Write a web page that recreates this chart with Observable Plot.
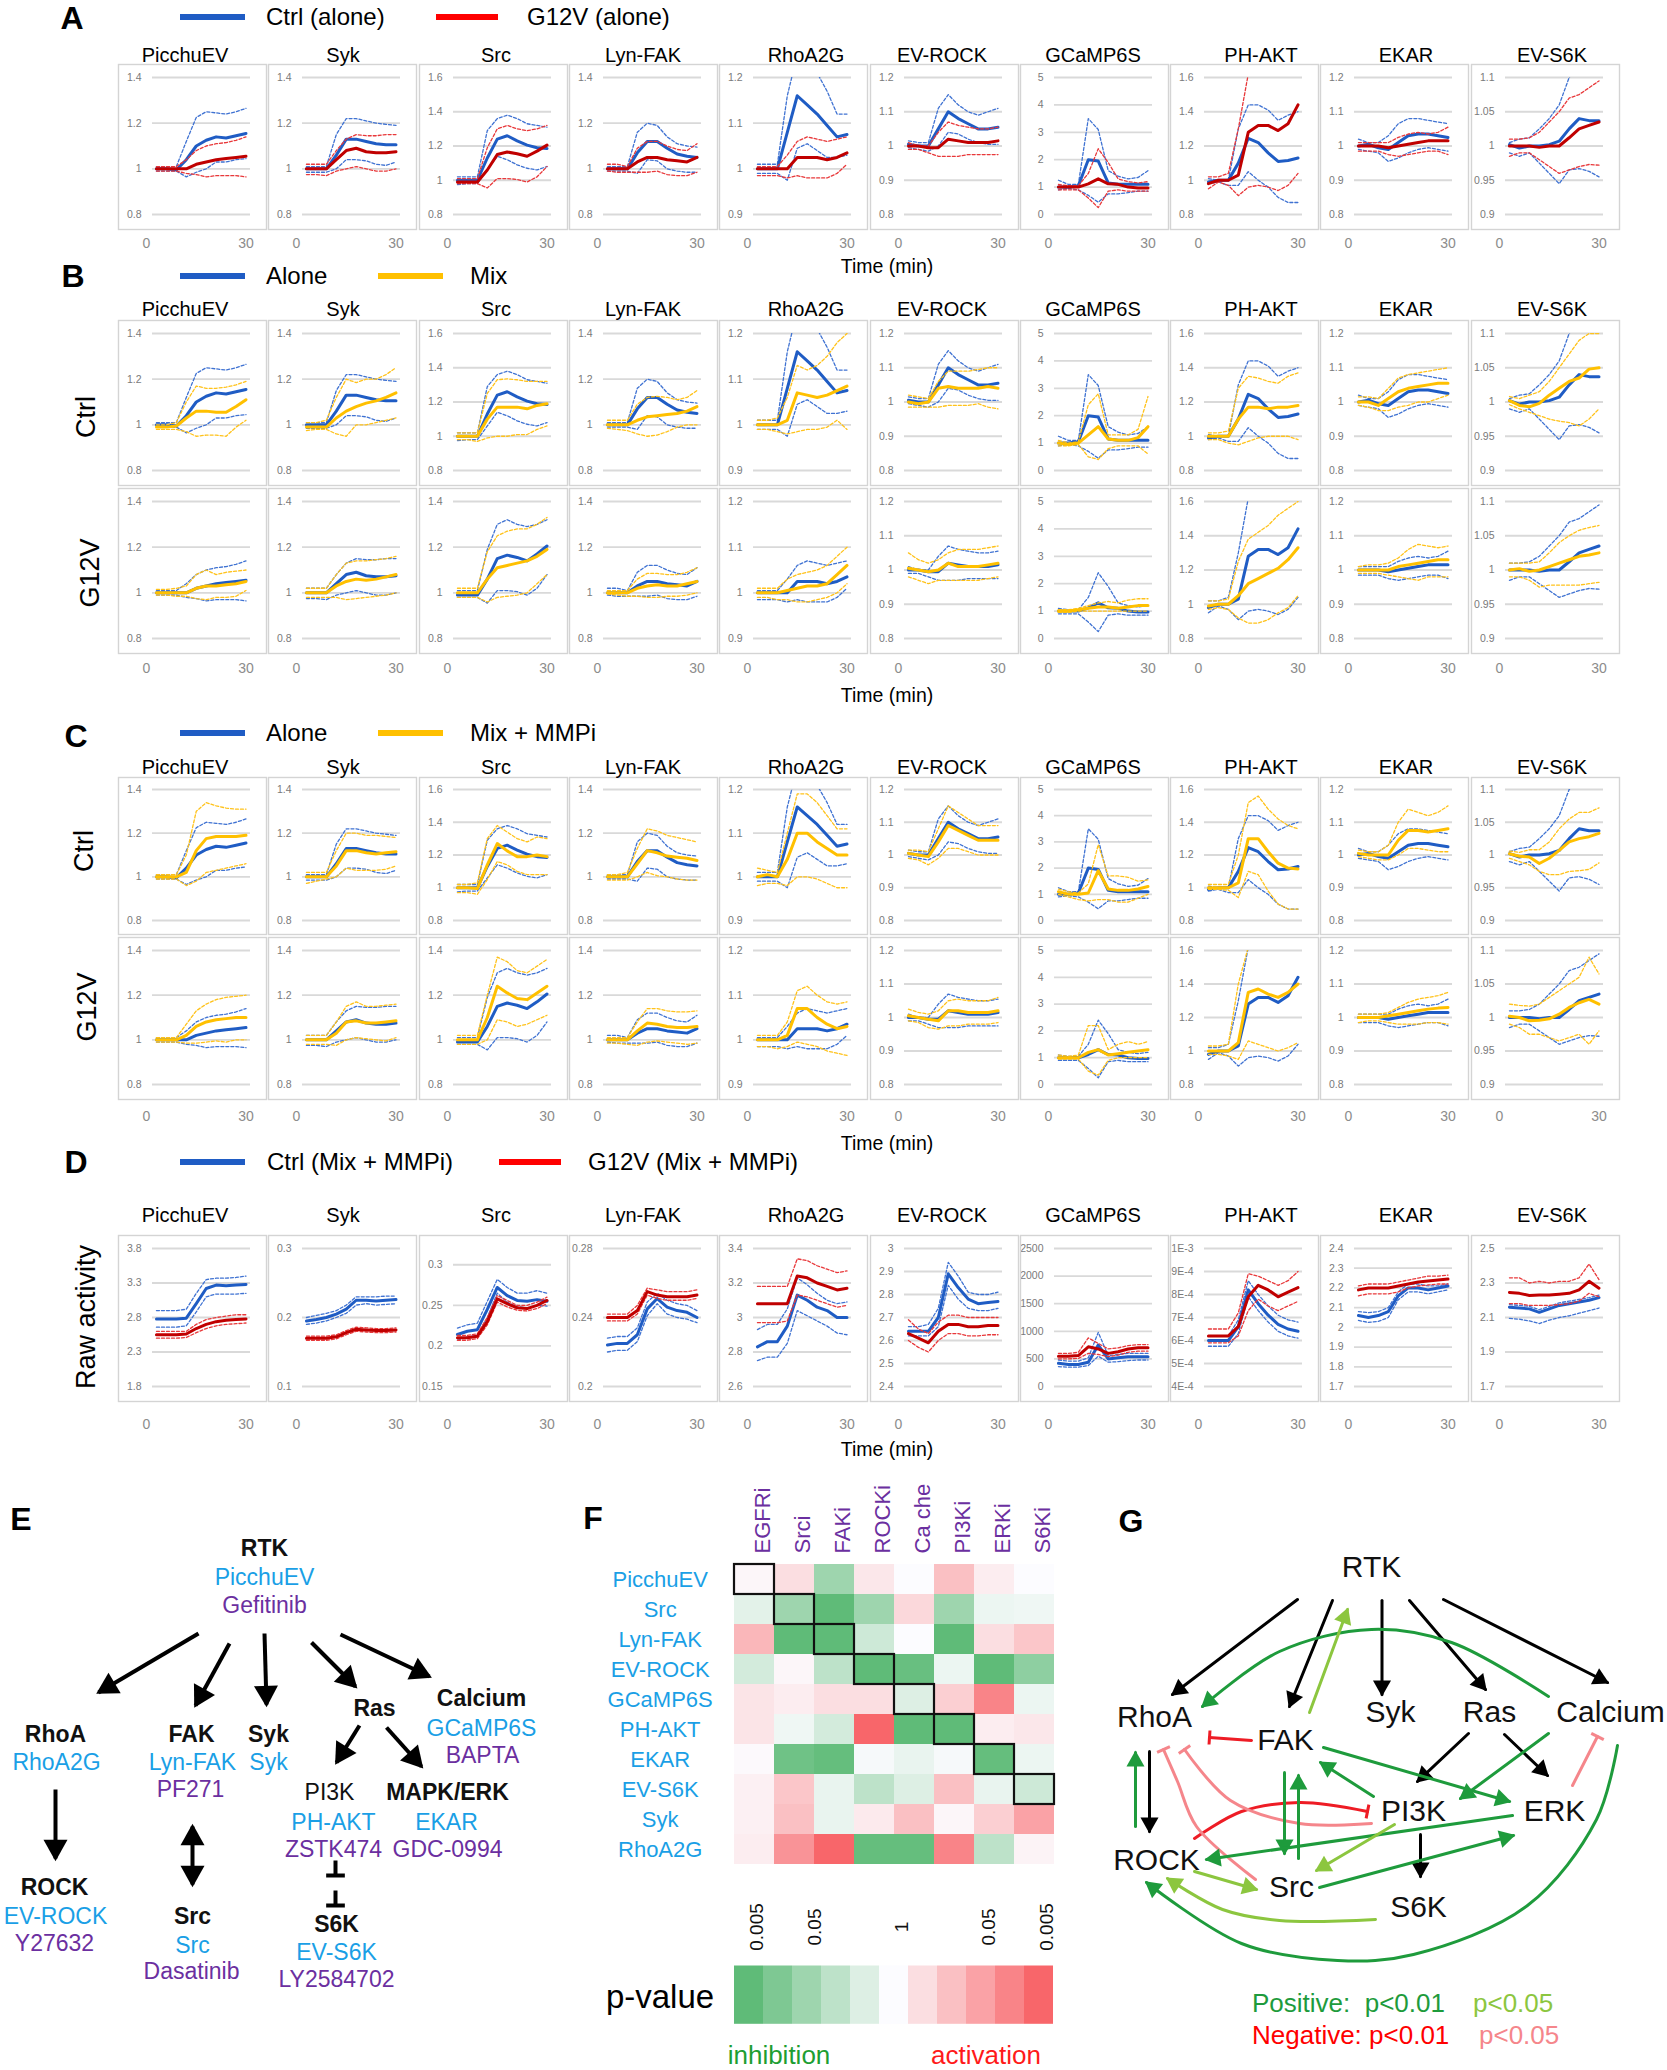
<!DOCTYPE html>
<html><head><meta charset="utf-8">
<script src="https://cdn.jsdelivr.net/npm/d3@7"></script>
<script src="https://cdn.jsdelivr.net/npm/@observablehq/plot@0.6"></script>
<style>
html,body{margin:0;padding:0;background:#fff;}
#page{position:relative;width:1667px;height:2070px;overflow:hidden;background:#fff;font-family:"Liberation Sans",Arial,Helvetica,sans-serif;}
.sc g[aria-label^="x-axis"] text{font-size:14px;fill:#8c8c8c;}
.sc g[aria-label^="y-axis"] text{fill:#7a7a7a;}
</style></head>
<body><div id="page"></div>
<script>
// ---------------- DATA ----------------
const SENSORS = ["PicchuEV","Syk","Src","Lyn-FAK","RhoA2G","EV-ROCK","GCaMP6S","PH-AKT","EKAR","EV-S6K"];
const T = [3,6,9,12,15,18,21,24,27,30];
const X_TICKS = [0, 30];

const NORM_YDOMAIN = [[0.8,1.4],[0.8,1.4],[0.8,1.6],[0.8,1.4],[0.9,1.2],[0.8,1.2],[0,5],[0.8,1.6],[0.8,1.2],[0.9,1.1]];
const NORM_YTICKS = [[0.8,1,1.2,1.4],[0.8,1,1.2,1.4],[0.8,1,1.2,1.4,1.6],[0.8,1,1.2,1.4],[0.9,1,1.1,1.2],[0.8,0.9,1,1.1,1.2],[0,1,2,3,4,5],[0.8,1,1.2,1.4,1.6],[0.8,0.9,1,1.1,1.2],[0.9,0.95,1,1.05,1.1]];
const G12V_YDOMAIN = [[0.8,1.4],[0.8,1.4],[0.8,1.4],[0.8,1.4],[0.9,1.2],[0.8,1.2],[0,5],[0.8,1.6],[0.8,1.2],[0.9,1.1]];
const G12V_YTICKS = [[0.8,1,1.2,1.4],[0.8,1,1.2,1.4],[0.8,1,1.2,1.4],[0.8,1,1.2,1.4],[0.9,1,1.1,1.2],[0.8,0.9,1,1.1,1.2],[0,1,2,3,4,5],[0.8,1,1.2,1.4,1.6],[0.8,0.9,1,1.1,1.2],[0.9,0.95,1,1.05,1.1]];
const RAW_YDOMAIN = [[1.8,3.8],[0.1,0.3],[0.15,0.32],[0.2,0.28],[2.6,3.4],[2.4,3],[0,2500],[0.0004,0.001],[1.7,2.4],[1.7,2.5]];
const RAW_YTICKS = [[1.8,2.3,2.8,3.3,3.8],[0.1,0.2,0.3],[0.15,0.2,0.25,0.3],[0.2,0.24,0.28],[2.6,2.8,3,3.2,3.4],[2.4,2.5,2.6,2.7,2.8,2.9,3],[0,500,1000,1500,2000,2500],[0.0004,0.0005,0.0006,0.0007,0.0008,0.0009,0.001],[1.7,1.8,1.9,2,2.1,2.2,2.3,2.4],[1.7,1.9,2.1,2.3,2.5]];
const RAW_PHAKT_LABELS = ["4E-4","5E-4","6E-4","7E-4","8E-4","9E-4","1E-3"];

// Ctrl alone (normalized)
const ALONE_CTRL_MEAN = [
[1.0,1.0,0.995,1.04,1.10,1.125,1.14,1.135,1.145,1.155],
[1.0,1.0,1.0,1.06,1.13,1.13,1.12,1.11,1.105,1.105],
[1.0,1.0,1.0,1.13,1.24,1.26,1.23,1.205,1.19,1.185],
[1.0,1.0,1.0,1.07,1.12,1.12,1.09,1.065,1.055,1.05],
[1.0,1.0,1.0,1.08,1.16,1.14,1.12,1.095,1.07,1.075],
[1.005,1.0,1.0,1.05,1.10,1.08,1.065,1.05,1.05,1.055],
[1.0,1.0,1.05,2.0,1.95,1.15,1.1,1.1,1.1,1.1],
[0.99,1.0,1.0,1.1,1.245,1.22,1.16,1.11,1.115,1.13],
[1.0,1.005,0.995,0.99,1.01,1.03,1.035,1.035,1.03,1.025],
[1.002,0.997,1.0,1.0,1.002,1.007,1.025,1.04,1.037,1.037]];
const ALONE_CTRL_HI = [
[1.01,1.01,1.01,1.12,1.225,1.25,1.245,1.24,1.25,1.265],
[1.01,1.01,1.01,1.15,1.22,1.22,1.21,1.20,1.195,1.19],
[1.02,1.02,1.02,1.29,1.36,1.38,1.36,1.33,1.32,1.31],
[1.01,1.01,1.01,1.16,1.20,1.19,1.14,1.11,1.10,1.095],
[1.01,1.01,1.01,1.16,1.25,1.25,1.21,1.17,1.12,1.12],
[1.015,1.01,1.01,1.11,1.15,1.12,1.10,1.09,1.10,1.11],
[1.25,1.1,1.1,3.5,3.1,1.6,1.4,1.3,1.35,1.6],
[1.01,1.0,1.0,1.3,1.44,1.44,1.41,1.35,1.38,1.4],
[1.02,1.01,1.01,1.03,1.065,1.08,1.08,1.075,1.07,1.065],
[1.005,1.01,1.012,1.025,1.04,1.06,1.1,1.12,1.14,1.16]];
const ALONE_CTRL_LO = [
[0.99,0.99,0.99,0.965,0.985,1.0,1.03,1.03,1.04,1.045],
[0.985,0.985,0.985,1.0,1.04,1.04,1.035,1.02,1.015,1.03],
[0.975,0.98,0.98,1.06,1.14,1.12,1.09,1.07,1.06,1.08],
[0.99,0.99,0.99,0.98,1.04,1.035,1.0,0.99,0.985,0.985],
[0.99,0.99,0.99,0.975,1.045,1.055,1.04,1.025,1.025,1.03],
[0.995,0.99,0.985,1.0,1.04,1.035,1.02,1.01,1.005,1.005],
[0.9,0.95,0.9,0.7,0.45,0.75,0.75,0.8,0.85,0.85],
[0.98,0.99,0.97,0.97,1.05,1.0,0.96,0.9,0.87,0.87],
[0.99,0.985,0.98,0.955,0.965,0.98,0.99,0.995,0.99,0.985],
[0.99,0.985,0.99,0.975,0.96,0.945,0.965,0.967,0.963,0.955]];

// G12V alone (normalized)
const ALONE_G12V_MEAN = [
[1.0,1.0,1.0,1.0,1.02,1.03,1.04,1.045,1.05,1.055],
[1.0,1.0,1.0,1.04,1.08,1.09,1.075,1.07,1.07,1.075],
[0.99,0.99,0.99,1.06,1.15,1.165,1.155,1.14,1.17,1.205],
[1.0,1.0,1.0,1.03,1.05,1.05,1.04,1.035,1.03,1.05],
[1.0,1.0,1.0,1.0,1.025,1.025,1.025,1.02,1.025,1.035],
[1.0,1.0,0.995,0.995,1.02,1.015,1.01,1.01,1.01,1.015],
[1.0,1.0,1.0,1.12,1.3,1.12,1.1,1.0,0.97,0.97],
[0.98,1.0,1.0,1.03,1.28,1.32,1.32,1.29,1.33,1.44],
[1.0,1.0,1.0,0.995,1.0,1.005,1.01,1.015,1.015,1.015],
[1.0,1.0,1.0,0.998,1.0,1.0,1.012,1.025,1.03,1.035]];
const ALONE_G12V_HI = [
[1.01,1.01,1.01,1.04,1.08,1.10,1.11,1.115,1.125,1.14],
[1.02,1.02,1.02,1.08,1.13,1.15,1.145,1.145,1.15,1.15],
[1.01,1.01,1.01,1.19,1.30,1.32,1.30,1.29,1.30,1.32],
[1.02,1.02,1.01,1.09,1.12,1.12,1.10,1.085,1.08,1.11],
[1.005,1.005,1.005,1.03,1.06,1.07,1.065,1.06,1.065,1.07],
[1.01,1.0,1.0,1.04,1.07,1.06,1.055,1.05,1.05,1.055],
[1.1,1.05,1.05,1.5,2.4,1.9,1.3,1.2,1.15,1.2],
[1.02,1.02,1.04,1.3,1.62,1.75,1.8,1.85,1.9,1.95],
[1.01,1.01,1.01,1.01,1.025,1.035,1.04,1.035,1.04,1.055],
[1.01,1.01,1.012,1.02,1.035,1.05,1.07,1.075,1.085,1.095]];
const ALONE_G12V_LO = [
[0.99,0.99,0.99,0.98,0.975,0.965,0.97,0.97,0.97,0.965],
[0.975,0.975,0.97,0.99,1.0,1.01,1.0,0.99,0.99,1.0],
[0.98,0.98,0.98,0.955,1.01,1.01,1.005,0.99,1.02,1.08],
[0.99,0.985,0.985,0.985,0.985,0.99,0.975,0.97,0.97,0.985],
[0.985,0.985,0.985,0.98,0.985,0.98,0.98,0.98,0.99,1.01],
[0.99,0.99,0.98,0.97,0.97,0.97,0.975,0.975,0.975,0.975],
[0.9,0.9,0.9,0.6,0.25,0.85,0.9,0.85,0.85,0.85],
[0.95,0.99,0.97,0.91,0.96,0.97,0.96,0.94,0.97,1.04],
[0.985,0.985,0.985,0.975,0.97,0.975,0.98,0.985,0.985,0.975],
[0.985,0.99,0.99,0.98,0.97,0.96,0.965,0.97,0.973,0.972]];

// Ctrl in mix
const MIX_CTRL_MEAN = [
[0.99,0.99,0.995,1.03,1.06,1.06,1.055,1.055,1.08,1.11],
[0.99,0.99,0.99,1.03,1.06,1.08,1.095,1.105,1.12,1.14],
[1.0,1.0,1.0,1.1,1.17,1.17,1.17,1.16,1.18,1.19],
[1.0,1.0,1.0,1.02,1.035,1.04,1.045,1.05,1.06,1.08],
[1.0,1.0,1.0,1.01,1.07,1.065,1.06,1.065,1.075,1.085],
[1.0,0.995,1.0,1.04,1.045,1.04,1.04,1.04,1.045,1.04],
[1.0,0.95,1.0,1.3,1.6,1.15,1.1,1.1,1.2,1.6],
[1.0,1.0,1.0,1.1,1.17,1.17,1.16,1.17,1.17,1.18],
[1.0,1.0,0.99,1.01,1.03,1.04,1.045,1.05,1.055,1.055],
[1.002,0.995,0.993,0.998,1.01,1.02,1.03,1.035,1.048,1.05]];
const MIX_CTRL_HI = [
[1.0,1.0,1.01,1.1,1.17,1.16,1.16,1.165,1.175,1.19],
[1.01,1.01,1.02,1.12,1.2,1.185,1.2,1.2,1.22,1.25],
[1.02,1.02,1.02,1.25,1.33,1.335,1.33,1.32,1.32,1.32],
[1.02,1.02,1.02,1.09,1.12,1.125,1.12,1.11,1.12,1.15],
[1.01,1.01,1.015,1.06,1.13,1.12,1.13,1.15,1.18,1.2],
[1.02,1.015,1.01,1.06,1.09,1.09,1.09,1.095,1.1,1.1],
[1.1,1.0,1.05,2.4,2.8,1.3,1.3,1.3,1.5,2.7],
[1.02,1.02,1.03,1.28,1.35,1.34,1.32,1.31,1.35,1.37],
[1.015,1.015,1.01,1.04,1.07,1.08,1.085,1.09,1.095,1.1],
[1.008,1.005,1.01,1.015,1.03,1.05,1.07,1.09,1.1,1.1]];
const MIX_CTRL_LO = [
[0.98,0.98,0.98,0.97,0.95,0.955,0.955,0.95,0.99,1.02],
[0.975,0.98,0.98,0.96,0.95,1.0,1.0,1.01,1.02,1.03],
[0.98,0.98,0.97,0.99,1.0,1.0,1.01,1.01,1.04,1.06],
[0.985,0.98,0.975,0.96,0.95,0.955,0.97,0.99,1.0,1.0],
[0.99,0.99,0.985,0.98,0.985,0.99,0.99,0.995,1.01,0.99],
[0.985,0.985,0.985,0.985,0.99,0.99,0.99,0.995,0.985,0.98],
[0.9,0.9,0.95,0.5,0.4,0.8,0.9,0.9,0.9,0.6],
[0.98,0.98,0.96,0.95,0.97,0.99,1.0,1.0,1.0,0.98],
[0.99,0.985,0.975,0.975,0.985,0.99,1.0,1.0,1.01,1.02],
[0.996,0.99,0.985,0.98,0.975,0.972,0.97,0.965,0.975,0.99]];

// G12V in mix
const MIX_G12V_MEAN = [
[1.0,1.0,1.0,1.0,1.02,1.03,1.03,1.035,1.04,1.05],
[1.0,1.0,1.0,1.03,1.05,1.06,1.055,1.06,1.07,1.08],
[1.0,1.0,1.0,1.06,1.11,1.12,1.13,1.14,1.16,1.19],
[1.0,1.0,1.0,1.02,1.03,1.035,1.03,1.03,1.04,1.05],
[1.0,1.0,1.0,1.005,1.01,1.015,1.015,1.02,1.04,1.06],
[1.005,1.0,0.995,1.0,1.02,1.01,1.01,1.01,1.015,1.02],
[1.0,1.0,1.05,1.1,1.15,1.15,1.1,1.15,1.2,1.2],
[0.99,1.0,1.0,1.05,1.12,1.15,1.18,1.21,1.26,1.33],
[1.0,1.0,1.0,1.0,1.01,1.015,1.02,1.025,1.03,1.03],
[1.0,1.002,0.998,1.0,1.005,1.01,1.015,1.02,1.022,1.025]];
const MIX_G12V_HI = [
[1.015,1.015,1.02,1.03,1.08,1.1,1.08,1.09,1.095,1.1],
[1.02,1.02,1.02,1.08,1.13,1.14,1.14,1.145,1.15,1.16],
[1.02,1.02,1.02,1.18,1.25,1.27,1.28,1.28,1.3,1.33],
[1.01,1.01,1.01,1.06,1.085,1.085,1.08,1.08,1.09,1.11],
[1.01,1.01,1.01,1.03,1.04,1.045,1.05,1.06,1.08,1.1],
[1.05,1.03,1.02,1.03,1.05,1.06,1.06,1.06,1.065,1.07],
[1.05,1.05,1.1,1.2,1.3,1.35,1.3,1.4,1.45,1.45],
[1.02,1.02,1.03,1.25,1.38,1.42,1.46,1.52,1.56,1.6],
[1.01,1.015,1.015,1.02,1.035,1.06,1.075,1.07,1.065,1.07],
[1.01,1.01,1.01,1.012,1.025,1.04,1.05,1.058,1.062,1.065]];
const MIX_G12V_LO = [
[0.99,0.99,0.985,0.985,0.975,0.97,0.98,0.98,0.985,1.01],
[0.98,0.98,0.98,0.98,0.97,0.975,0.98,0.985,0.99,1.0],
[0.98,0.98,0.98,0.96,0.98,0.985,0.99,1.0,1.04,1.08],
[0.995,0.99,0.985,0.985,0.98,0.98,0.985,0.985,0.99,1.0],
[0.99,0.99,0.985,0.985,0.98,0.98,0.985,0.99,1.0,1.02],
[0.98,0.97,0.96,0.97,0.97,0.97,0.97,0.97,0.975,0.98],
[0.95,0.95,1.0,1.0,1.0,1.0,1.0,1.0,1.0,1.0],
[0.97,0.98,0.97,0.92,0.89,0.89,0.91,0.95,0.98,1.05],
[0.99,0.99,0.99,0.985,0.98,0.975,0.97,0.98,0.98,0.98],
[0.99,0.99,0.985,0.975,0.978,0.978,0.978,0.978,0.98,0.982]];

// Ctrl in mix + MMPi
const MMPI_CTRL_MEAN = [
[1.0,1.0,1.0,1.02,1.12,1.175,1.185,1.185,1.185,1.19],
[1.0,1.0,1.0,1.05,1.12,1.12,1.11,1.105,1.11,1.115],
[1.0,1.0,0.995,1.14,1.27,1.225,1.19,1.19,1.2,1.19],
[1.0,1.0,1.0,1.06,1.12,1.11,1.095,1.09,1.085,1.075],
[1.0,1.005,1.0,1.04,1.1,1.1,1.08,1.065,1.05,1.05],
[1.005,1.0,0.995,1.04,1.09,1.075,1.06,1.045,1.045,1.045],
[1.1,1.0,1.0,1.05,1.9,1.2,1.15,1.15,1.2,1.3],
[1.0,1.0,1.0,1.03,1.3,1.3,1.22,1.15,1.12,1.115],
[1.005,1.0,1.0,1.0,1.045,1.075,1.075,1.07,1.075,1.08],
[1.002,0.998,0.997,0.987,0.995,1.007,1.02,1.025,1.028,1.033]];
const MMPI_CTRL_HI = [
[1.01,1.01,1.01,1.1,1.3,1.34,1.325,1.315,1.31,1.31],
[1.02,1.02,1.02,1.12,1.2,1.2,1.19,1.19,1.185,1.18],
[1.02,1.02,1.03,1.3,1.38,1.34,1.3,1.28,1.31,1.3],
[1.01,1.01,1.02,1.13,1.22,1.21,1.19,1.18,1.17,1.16],
[1.02,1.015,1.01,1.1,1.19,1.19,1.17,1.14,1.11,1.11],
[1.015,1.015,1.01,1.08,1.15,1.13,1.11,1.09,1.09,1.09],
[1.2,1.1,1.05,1.4,2.9,1.7,1.7,1.65,1.5,1.55],
[1.02,1.02,1.02,1.2,1.52,1.56,1.48,1.42,1.38,1.36],
[1.015,1.01,1.01,1.03,1.1,1.14,1.13,1.12,1.13,1.15],
[1.006,1.004,1.008,1.008,1.02,1.04,1.055,1.065,1.065,1.072]];
const MMPI_CTRL_LO = [
[0.99,0.99,0.99,0.96,0.98,1.02,1.03,1.04,1.05,1.06],
[0.97,0.98,0.99,1.0,1.04,1.03,1.03,1.03,1.035,1.05],
[0.97,0.97,0.96,1.05,1.16,1.14,1.1,1.08,1.08,1.08],
[0.985,0.985,0.985,1.0,1.02,1.005,1.0,0.99,0.985,0.985],
[0.98,0.985,0.985,0.98,1.0,1.0,0.995,0.985,0.975,0.975],
[0.99,0.985,0.97,0.99,1.02,1.02,1.01,1.0,1.0,1.0],
[1.0,0.9,0.8,0.75,0.8,0.8,0.7,0.7,0.85,1.0],
[0.99,0.99,0.985,0.94,1.1,1.08,0.98,0.9,0.87,0.87],
[0.995,0.99,0.985,0.985,1.0,1.02,1.02,1.015,1.01,1.01],
[0.995,0.99,0.985,0.975,0.97,0.97,0.975,0.976,0.978,0.988]];

// G12V in mix + MMPi
const MMPI_G12V_MEAN = [
[1.0,1.0,1.0,1.02,1.06,1.08,1.09,1.095,1.1,1.1],
[1.0,1.0,1.0,1.03,1.08,1.085,1.075,1.075,1.08,1.085],
[1.0,1.0,1.0,1.1,1.24,1.21,1.185,1.18,1.21,1.24],
[1.0,1.0,1.0,1.04,1.075,1.07,1.06,1.055,1.055,1.06],
[1.0,1.0,1.0,1.01,1.07,1.07,1.05,1.035,1.025,1.03],
[1.005,1.0,0.995,0.99,1.02,1.02,1.015,1.015,1.015,1.02],
[1.0,1.0,1.0,1.2,1.3,1.1,1.15,1.2,1.25,1.3],
[1.0,1.0,1.0,1.05,1.35,1.37,1.34,1.32,1.35,1.4],
[1.0,1.0,1.0,1.005,1.01,1.015,1.02,1.025,1.028,1.03],
[1.002,1.0,0.995,0.996,0.998,1.005,1.015,1.022,1.027,1.02]];
const MMPI_G12V_HI = [
[1.01,1.01,1.01,1.07,1.13,1.16,1.18,1.19,1.195,1.2],
[1.02,1.02,1.02,1.08,1.15,1.17,1.15,1.15,1.155,1.16],
[1.02,1.02,1.02,1.2,1.37,1.35,1.31,1.3,1.33,1.36],
[1.01,1.01,1.01,1.08,1.14,1.14,1.13,1.125,1.125,1.13],
[1.01,1.01,1.01,1.04,1.11,1.12,1.1,1.085,1.08,1.085],
[1.025,1.015,1.01,1.02,1.05,1.055,1.05,1.05,1.05,1.06],
[1.1,1.05,1.1,2.2,2.2,1.3,1.5,1.6,1.5,1.6],
[1.03,1.03,1.04,1.4,1.62,1.7,1.8,1.9,2.0,2.0],
[1.01,1.01,1.01,1.015,1.03,1.045,1.055,1.06,1.065,1.075],
[1.02,1.018,1.017,1.02,1.03,1.04,1.05,1.06,1.09,1.065]];
const MMPI_G12V_LO = [
[0.99,0.99,0.99,0.985,0.985,0.99,0.995,0.99,1.0,1.0],
[0.98,0.98,0.98,0.975,1.0,1.01,1.005,1.0,0.995,1.01],
[0.98,0.98,0.98,1.0,1.09,1.08,1.06,1.07,1.09,1.11],
[0.985,0.985,0.98,0.975,0.99,0.995,0.99,0.985,0.98,0.985],
[0.985,0.985,0.98,0.985,0.995,0.99,0.985,0.975,0.97,0.965],
[0.99,0.985,0.97,0.965,0.975,0.975,0.98,0.98,0.98,0.985],
[0.95,0.95,0.95,0.5,0.35,0.9,1.0,1.0,1.0,1.0],
[0.98,0.98,0.97,0.95,1.06,1.04,1.02,1.0,1.02,1.05],
[0.985,0.99,0.99,0.985,0.98,0.98,0.98,0.985,0.985,0.98],
[0.99,0.985,0.975,0.975,0.97,0.965,0.97,0.975,0.96,0.98]];

// Raw activity (mix + MMPi)
const RAW_CTRL_MEAN = [
[2.78,2.78,2.78,2.79,3.0,3.22,3.27,3.26,3.27,3.28],
[0.195,0.197,0.2,0.205,0.212,0.225,0.225,0.224,0.225,0.226],
[0.214,0.218,0.22,0.245,0.272,0.262,0.256,0.255,0.257,0.255],
[0.224,0.225,0.225,0.23,0.245,0.251,0.246,0.244,0.243,0.24],
[2.83,2.86,2.86,2.95,3.13,3.1,3.06,3.04,3.0,3.0],
[2.64,2.64,2.64,2.7,2.89,2.83,2.78,2.76,2.765,2.77],
[420,400,400,440,750,500,520,540,540,540],
[0.0006,0.0006,0.0006,0.00066,0.00082,0.00076,0.00071,0.00067,0.00065,0.00064],
[2.06,2.05,2.06,2.08,2.16,2.2,2.2,2.19,2.2,2.21],
[2.16,2.155,2.15,2.13,2.15,2.17,2.18,2.19,2.2,2.215]];
const RAW_CTRL_HI = [
[2.9,2.9,2.9,2.92,3.15,3.35,3.37,3.37,3.38,3.4],
[0.2,0.203,0.206,0.21,0.218,0.23,0.23,0.23,0.231,0.231],
[0.222,0.226,0.228,0.255,0.282,0.272,0.265,0.265,0.268,0.265],
[0.228,0.229,0.229,0.234,0.249,0.254,0.25,0.248,0.247,0.244],
[2.93,2.96,2.96,3.05,3.23,3.19,3.14,3.1,3.08,3.09],
[2.66,2.66,2.67,2.74,2.94,2.88,2.81,2.8,2.8,2.81],
[480,460,460,520,980,560,580,600,600,600],
[0.00062,0.00062,0.00062,0.00069,0.00086,0.0008,0.00075,0.00071,0.00069,0.00068],
[2.08,2.075,2.08,2.1,2.18,2.22,2.22,2.21,2.21,2.22],
[2.175,2.17,2.165,2.145,2.165,2.185,2.195,2.205,2.215,2.23]];
const RAW_CTRL_LO = [
[2.66,2.66,2.66,2.68,2.88,3.1,3.14,3.14,3.14,3.15],
[0.19,0.192,0.195,0.2,0.206,0.218,0.22,0.218,0.219,0.22],
[0.207,0.211,0.213,0.235,0.265,0.254,0.248,0.247,0.25,0.249],
[0.22,0.221,0.221,0.226,0.241,0.248,0.242,0.24,0.239,0.237],
[2.75,2.77,2.77,2.85,3.04,3.01,2.98,2.95,2.91,2.9],
[2.62,2.62,2.62,2.66,2.84,2.78,2.74,2.73,2.73,2.74],
[360,350,350,380,550,440,450,470,480,480],
[0.000575,0.000575,0.000575,0.00063,0.00079,0.00073,0.00068,0.00064,0.00062,0.00061],
[2.035,2.025,2.03,2.05,2.14,2.18,2.18,2.17,2.18,2.19],
[2.095,2.09,2.08,2.065,2.085,2.1,2.11,2.125,2.14,2.155]];
const RAW_G12V_MEAN = [
[2.55,2.55,2.55,2.56,2.64,2.7,2.74,2.76,2.77,2.78],
[0.17,0.17,0.17,0.172,0.178,0.183,0.182,0.181,0.181,0.182],
[0.21,0.21,0.212,0.23,0.258,0.252,0.247,0.246,0.25,0.256],
[0.24,0.24,0.24,0.244,0.255,0.253,0.252,0.252,0.252,0.253],
[3.08,3.08,3.08,3.08,3.24,3.23,3.2,3.18,3.16,3.17],
[2.63,2.61,2.59,2.64,2.67,2.67,2.66,2.66,2.665,2.665],
[550,550,560,720,680,600,630,680,700,700],
[0.00062,0.00062,0.00062,0.00066,0.00079,0.00084,0.00082,0.00079,0.00081,0.00083],
[2.19,2.2,2.2,2.2,2.21,2.22,2.23,2.235,2.24,2.245],
[2.245,2.24,2.228,2.23,2.23,2.235,2.24,2.26,2.31,2.27]];
const RAW_G12V_HI = [
[2.6,2.6,2.6,2.6,2.7,2.77,2.8,2.82,2.84,2.84],
[0.173,0.173,0.173,0.175,0.181,0.186,0.185,0.184,0.184,0.185],
[0.213,0.213,0.215,0.235,0.262,0.256,0.25,0.25,0.254,0.26],
[0.242,0.242,0.242,0.247,0.257,0.256,0.255,0.255,0.255,0.256],
[3.18,3.18,3.18,3.18,3.34,3.33,3.3,3.28,3.26,3.27],
[2.69,2.65,2.63,2.68,2.71,2.71,2.7,2.7,2.7,2.7],
[600,600,620,880,780,680,700,740,760,760],
[0.00065,0.00065,0.00065,0.00072,0.00089,0.00088,0.00086,0.00084,0.00086,0.0009],
[2.21,2.22,2.22,2.22,2.23,2.24,2.25,2.26,2.26,2.265],
[2.33,2.33,2.3,2.31,2.3,2.31,2.31,2.33,2.41,2.32]];
const RAW_G12V_LO = [
[2.5,2.5,2.5,2.51,2.58,2.64,2.68,2.7,2.71,2.72],
[0.167,0.167,0.167,0.169,0.175,0.18,0.179,0.178,0.178,0.179],
[0.207,0.207,0.209,0.226,0.254,0.248,0.244,0.243,0.246,0.252],
[0.238,0.238,0.238,0.242,0.253,0.251,0.25,0.25,0.25,0.251],
[2.97,2.97,2.97,2.98,3.13,3.12,3.1,3.08,3.06,3.07],
[2.6,2.57,2.55,2.6,2.63,2.63,2.62,2.62,2.625,2.625],
[500,500,510,600,580,540,570,620,640,640],
[0.00059,0.00059,0.00059,0.00062,0.00073,0.00078,0.00075,0.00073,0.00075,0.00077],
[2.16,2.17,2.17,2.17,2.18,2.2,2.21,2.215,2.22,2.22],
[2.18,2.18,2.17,2.17,2.17,2.175,2.18,2.195,2.24,2.22]];

// Panel F: p-value heat map (negative = inhibition, positive = activation)
const DRUGS = ["EGFRi","Srci","FAKi","ROCKi","Ca che","PI3Ki","ERKi","S6Ki"];
const F_SENSORS = ["PicchuEV","Src","Lyn-FAK","EV-ROCK","GCaMP6S","PH-AKT","EKAR","EV-S6K","Syk","RhoA2G"];
const F_VALUES = [
[0.2,1,-3,0.7,0,2,0.5,0],
[-0.8,-3,-5,-3,1.2,-3,-0.5,-0.4],
[2.3,-5,-5,-1.5,0,-5,1,1.8],
[-1.3,0.2,-2,-5,-4.7,-0.5,-5,-3.5],
[0.8,0.5,1,1,-1,1.5,4,-0.5],
[0.8,-0.4,-1.3,5,-5,-5,0.5,0.7],
[0.1,-4.5,-4.8,-0.2,-0.6,-0.2,-4.8,-0.5],
[0.4,1.8,-0.6,-2,-1,2,-0.6,-1.5],
[0.4,2,-0.6,0.6,2,0.2,1.5,3],
[0.5,3.5,5,-4.8,-4.8,4,-2,0.3]];
const F_TARGETS = [["PicchuEV","EGFRi"],["Src","Srci"],["Lyn-FAK","FAKi"],["EV-ROCK","ROCKi"],["GCaMP6S","Ca che"],["PH-AKT","PI3Ki"],["EKAR","ERKi"],["EV-S6K","S6Ki"]];
const P_LEVELS = [-5,-4,-3,-2,-1,0,1,2,3,4,5];
const P_TICKS = [-5,-3,0,3,5];
const P_TICK_LABELS = ["0.005","0.05","1","0.05","0.005"];

// Panel E: pathway labels [text, x, y, kind]
const E_LABELS = [
["RTK",264,1548,"head"],["PicchuEV",264,1577,"sensor"],["Gefitinib",264,1605,"drug"],
["RhoA",55,1734,"head"],["RhoA2G",56,1762,"sensor"],
["ROCK",54,1887,"head"],["EV-ROCK",55,1916,"sensor"],["Y27632",54,1943,"drug"],
["FAK",191,1734,"head"],["Lyn-FAK",192,1762,"sensor"],["PF271",190,1789,"drug"],
["Src",192,1916,"head"],["Src",192,1945,"sensor"],["Dasatinib",191,1971,"drug"],
["Syk",268,1734,"head"],["Syk",268,1762,"sensor"],
["Ras",374,1708,"head"],
["Calcium",481,1698,"head"],["GCaMP6S",481,1728,"sensor"],["BAPTA",482,1755,"drug"],
["PI3K",329,1792,"plain"],["PH-AKT",333,1822,"sensor"],["ZSTK474",333,1849,"drug"],
["MAPK/ERK",447,1792,"head"],["EKAR",446,1822,"sensor"],["GDC-0994",447,1849,"drug"],
["S6K",336,1924,"head"],["EV-S6K",336,1952,"sensor"],["LY2584702",336,1979,"drug"]];
const E_ARROWS = [[198,1633,98,1692],[229,1643,195,1705],[264,1633,266,1704],[311,1642,355,1686],[340,1634,429,1676],[55,1789,55,1858],[359,1725,336,1762],[386,1727,421,1766]];
const E_BIARROWS = [[192,1826,192,1884]];
const E_INHIBITS = [[335,1860,335,1875],[335,1890,335,1905]];

// Panel G: network nodes and edges
const G_NODES = [["RTK",1371,1567],["RhoA",1154,1717],["FAK",1285,1740],["Syk",1390,1712],["Ras",1489,1712],["Calcium",1610,1712],["PI3K",1413,1811],["ERK",1554,1811],["ROCK",1156,1860],["Src",1291,1887],["S6K",1418,1907]];
const G_ACT_EDGES = [
["black",[[1297,1599],[1172,1694]]],
["black",[[1332,1600],[1289,1706]]],
["black",[[1381.5,1600],[1381.5,1694]]],
["black",[[1409,1600],[1485,1689]]],
["black",[[1443,1599],[1607,1682]]],
["black",[[1149,1751],[1149,1831]]],
["black",[[1468,1733],[1417,1781]]],
["black",[[1504,1734],[1547,1775]]],
["black",[[1420,1834],[1420,1876]]],
["pos1",[[1548,1696],[1451,1642],[1371,1629],[1279,1651],[1202,1706]]],
["pos1",[[1135,1826],[1135,1752]]],
["pos1",[[1323,1747],[1509,1801]]],
["pos1",[[1548,1733],[1460,1798]]],
["pos1",[[1373,1796],[1320,1762]]],
["pos1",[[1284,1772],[1284,1853]]],
["pos1",[[1298,1858],[1298,1775]]],
["pos1",[[1512,1815],[1206,1859]]],
["pos1",[[1319,1887],[1513,1835]]],
["pos1",[[1617,1745],[1596,1819],[1527,1905],[1413,1954],[1337,1960],[1241,1943],[1146,1882]]],
["pos5",[[1309,1712],[1347,1609]]],
["pos5",[[1394,1824],[1316,1870]]],
["pos5",[[1194,1871],[1256,1889]]],
["pos5",[[1375,1919],[1279,1920],[1222,1909],[1167,1878]]]];
const G_INH_EDGES = [
["neg1",[[1251,1740],[1209,1737]]],
["neg1",[[1194,1838],[1241,1811],[1299,1802],[1367,1811]]],
["neg5",[[1371,1823],[1299,1823],[1230,1800],[1184,1749]]],
["neg5",[[1255,1879],[1196,1826],[1177,1781],[1163,1749]]],
["neg5",[[1572,1785],[1597,1736]]]];

// ---------------- STYLE / LAYOUT ----------------
const FONT = '"Liberation Sans", Arial, Helvetica, sans-serif';
const COL = {blue:"#1f5cc4", blueD:"#3f72d2", red:"#c00000", redD:"#e8383a", orange:"#ffc000", orangeD:"#ffc21a",
  legRed:"#ff0000", sky:"#1a9fe6", purple:"#6b2fa0"};
const EDGE_COL = {black:"#000000", pos1:"#1e9b3c", pos5:"#8cc63f", neg1:"#ee1c25", neg5:"#f5868b"};
const E_INHIBIT_COL = "#010101";
const INHIBIT_COLORS = new Set([E_INHIBIT_COL, EDGE_COL.neg1, EDGE_COL.neg5]);
const TITLE_X = [185,343,496,643,806,942,1093,1261,1406,1552];
const BOX_X0 = 118, BOX_DX = 150.3, BOX_W = 148;

const page = document.getElementById("page");
function txt(s, x, y, o = {}) {
  const d = document.createElement("div");
  d.textContent = s;
  const ax = o.ax === undefined ? -50 : o.ax;
  d.style.cssText = `position:absolute;left:${x}px;top:${y}px;white-space:pre;font-family:${FONT};` +
    `font-size:${o.size || 20}px;font-weight:${o.weight || "normal"};color:${o.color || "#000"};line-height:1;` +
    `transform:translate(${ax}%,-50%)${o.rot ? ` rotate(${o.rot}deg)` : ""};`;
  page.appendChild(d);
}
function swatch(x1, x2, y, color) {
  const d = document.createElement("div");
  d.style.cssText = `position:absolute;left:${x1}px;top:${y - 3}px;width:${x2 - x1}px;height:6px;background:${color};`;
  page.appendChild(d);
}
function place(svg, left, top) {
  svg.style.position = "absolute";
  svg.style.left = left + "px";
  svg.style.top = top + "px";
  page.appendChild(svg);
}
// Plot's "arrow" marker is an open chevron: turn it into a filled head, or a T-bar for inhibitions
function patchMarkers(svg) {
  svg.querySelectorAll("marker").forEach(m => {
    const color = (m.getAttribute("stroke") || "").toLowerCase();
    const p = m.querySelector("path");
    m.setAttribute("overflow", "visible");
    m.setAttribute("orient", "auto-start-reverse");
    if (INHIBIT_COLORS.has(color)) {
      p.setAttribute("d", "M0,-3.5V3.5");
      m.setAttribute("stroke-linecap", "butt");
    } else {
      p.setAttribute("d", "M-7,-4.5L1,0L-7,4.5Z");
      m.setAttribute("fill", color);
      m.setAttribute("stroke", "none");
    }
  });
}

// ---------------- SMALL MULTIPLES ----------------
const ROWS = [
  {top:64, h:165, gap:15, xlab:true, dom:NORM_YDOMAIN, ticks:NORM_YTICKS,
   series:[[ALONE_CTRL_MEAN,ALONE_CTRL_HI,ALONE_CTRL_LO,COL.blue,COL.blueD],[ALONE_G12V_MEAN,ALONE_G12V_HI,ALONE_G12V_LO,COL.red,COL.redD]]},
  {top:320, h:165, gap:0, xlab:false, dom:NORM_YDOMAIN, ticks:NORM_YTICKS,
   series:[[ALONE_CTRL_MEAN,ALONE_CTRL_HI,ALONE_CTRL_LO,COL.blue,COL.blueD],[MIX_CTRL_MEAN,MIX_CTRL_HI,MIX_CTRL_LO,COL.orange,COL.orangeD]]},
  {top:488, h:165, gap:16, xlab:true, dom:G12V_YDOMAIN, ticks:G12V_YTICKS,
   series:[[ALONE_G12V_MEAN,ALONE_G12V_HI,ALONE_G12V_LO,COL.blue,COL.blueD],[MIX_G12V_MEAN,MIX_G12V_HI,MIX_G12V_LO,COL.orange,COL.orangeD]]},
  {top:777, h:157, gap:0, xlab:false, dom:NORM_YDOMAIN, ticks:NORM_YTICKS,
   series:[[ALONE_CTRL_MEAN,ALONE_CTRL_HI,ALONE_CTRL_LO,COL.blue,COL.blueD],[MMPI_CTRL_MEAN,MMPI_CTRL_HI,MMPI_CTRL_LO,COL.orange,COL.orangeD]]},
  {top:937, h:162, gap:18, xlab:true, dom:G12V_YDOMAIN, ticks:G12V_YTICKS,
   series:[[ALONE_G12V_MEAN,ALONE_G12V_HI,ALONE_G12V_LO,COL.blue,COL.blueD],[MMPI_G12V_MEAN,MMPI_G12V_HI,MMPI_G12V_LO,COL.orange,COL.orangeD]]},
  {top:1235, h:166, gap:24, xlab:true, raw:true, dom:RAW_YDOMAIN, ticks:RAW_YTICKS,
   series:[[RAW_CTRL_MEAN,RAW_CTRL_HI,RAW_CTRL_LO,COL.blue,COL.blueD],[RAW_G12V_MEAN,RAW_G12V_HI,RAW_G12V_LO,COL.red,COL.redD]]}
];

function chart(i, row) {
  const P = 2;
  const gT = Math.round(row.h * 0.079), gB = Math.round(row.h * 0.091);
  const width = BOX_W + 2 * P;
  const height = P + row.h + (row.xlab ? row.gap + 14 : P);
  const dom = row.dom[i], ticks = row.ticks[i];
  const labels = ticks.map((v, k) => (row.raw && i === 7) ? RAW_PHAKT_LABELS[k] : String(v));
  const marks = [
    Plot.frame({stroke: "#d4d4d4", strokeWidth: 1.4, insetLeft: -34, insetRight: -16, insetTop: -gT, insetBottom: -gB}),
    Plot.ruleY(ticks, {stroke: "#d9d9d9", strokeWidth: 1.8})
  ];
  for (const [mean, hi, lo, col, colD] of row.series) {
    for (const arr of [hi[i], lo[i]]) {
      marks.push(Plot.line(T, {x: t => t, y: (t, j) => arr[j], stroke: colD, strokeWidth: 1.3, strokeDasharray: "3,2", clip: true}));
    }
    const m = mean[i];
    marks.push(Plot.line(T, {x: t => t, y: (t, j) => m[j], stroke: col, strokeWidth: 3, clip: true}));
  }
  const svg = Plot.plot({
    width, height,
    marginLeft: P + 34, marginRight: P + 16, marginTop: P + gT,
    marginBottom: height - (P + row.h - gB),
    x: {domain: [0, 30], range: [P + 28, P + 127.5], ticks: X_TICKS, tickSize: 0,
        tickPadding: gB + row.gap - 6, label: null, axis: row.xlab ? "bottom" : null},
    y: {domain: dom, ticks, tickFormat: d => labels[ticks.indexOf(d)], tickSize: 0, tickPadding: 11, label: null},
    style: {fontFamily: FONT, fontSize: "10.5px", color: "#7a7a7a", background: "transparent", overflow: "visible"},
    marks
  });
  svg.classList.add("sc");
  place(svg, BOX_X0 + BOX_DX * i - P, row.top - P);
}
ROWS.forEach(row => SENSORS.forEach((s, i) => chart(i, row)));

// titles
const TITLE_Y = [55, 309, 767, 1215];
TITLE_Y.forEach(y => SENSORS.forEach((s, i) => txt(s, TITLE_X[i], y, {size: 20})));
// time labels
[267, 696, 1144, 1450].forEach(y => txt("Time (min)", 887, y, {size: 19.5}));
// panel letters
[["A",72,18],["B",73,276],["C",76,736],["D",76,1162],["E",21,1519],["F",593,1518],["G",1131,1521]]
  .forEach(([s, x, y]) => txt(s, x, y, {size: 32, weight: "bold"}));
// legends
swatch(180, 245, 17, COL.blue); txt("Ctrl (alone)", 266, 17, {size: 24, ax: 0});
swatch(436, 498, 17, COL.legRed); txt("G12V (alone)", 527, 17, {size: 24, ax: 0});
swatch(180, 245, 276, COL.blue); txt("Alone", 266, 276, {size: 24, ax: 0});
swatch(378, 443, 276, COL.orange); txt("Mix", 470, 276, {size: 24, ax: 0});
swatch(180, 245, 733, COL.blue); txt("Alone", 266, 733, {size: 24, ax: 0});
swatch(378, 443, 733, COL.orange); txt("Mix + MMPi", 470, 733, {size: 24, ax: 0});
swatch(180, 245, 1162, COL.blue); txt("Ctrl (Mix + MMPi)", 267, 1162, {size: 24, ax: 0});
swatch(499, 561, 1162, COL.legRed); txt("G12V (Mix + MMPi)", 588, 1162, {size: 24, ax: 0});
// row labels
txt("Ctrl", 86, 417, {size: 27, rot: -90});
txt("G12V", 90, 573, {size: 27, rot: -90});
txt("Ctrl", 84, 851, {size: 27, rot: -90});
txt("G12V", 87, 1007, {size: 27, rot: -90});
txt("Raw activity", 86, 1317, {size: 27, rot: -90});

// ---------------- PANEL E ----------------
{
  const E_STYLE = {head: {fill: "#111", w: "bold"}, sensor: {fill: COL.sky, w: "normal"}, drug: {fill: COL.purple, w: "normal"}, plain: {fill: "#111", w: "normal"}};
  const seg = {x1: d => d[0], y1: d => d[1], x2: d => d[2], y2: d => d[3]};
  const marks = [
    Plot.link(E_ARROWS, {...seg, stroke: "#000000", strokeWidth: 4, markerEnd: "arrow"}),
    Plot.link(E_BIARROWS, {...seg, stroke: "#000000", strokeWidth: 4, markerStart: "arrow", markerEnd: "arrow"}),
    Plot.link(E_INHIBITS, {...seg, stroke: E_INHIBIT_COL, strokeWidth: 4, markerEnd: "arrow"})
  ];
  for (const k of Object.keys(E_STYLE)) {
    marks.push(Plot.text(E_LABELS.filter(d => d[3] === k), {x: d => d[1], y: d => d[2], text: d => d[0],
      fill: E_STYLE[k].fill, fontWeight: E_STYLE[k].w, fontSize: 23, fontFamily: FONT}));
  }
  const svg = Plot.plot({
    width: 560, height: 590, margin: 0,
    x: {domain: [0, 560], axis: null}, y: {domain: [1480, 2070], reverse: true, axis: null},
    style: {background: "transparent", fontFamily: FONT, overflow: "visible"},
    marks
  });
  patchMarkers(svg);
  place(svg, 0, 1480);
}

// ---------------- PANEL F ----------------
const HEAT_COLOR = {type: "linear", domain: [-5, 0, 5], range: ["#5fbb78", "#fcfcff", "#f8666a"], clamp: true};
{
  const cells = F_SENSORS.flatMap((s, r) => DRUGS.map((d, c) => ({s, d, v: F_VALUES[r][c]})));
  const L = 560, Tp = 1480, W = 510, H = 400;
  const svg = Plot.plot({
    width: W, height: H,
    marginLeft: 731.7 - L, marginTop: 1561 - Tp, marginRight: W - (731.7 - L) - 325, marginBottom: H - (1561 - Tp) - 305,
    x: {type: "band", domain: DRUGS, padding: 0, axis: null},
    y: {type: "band", domain: F_SENSORS, padding: 0, axis: null},
    color: HEAT_COLOR,
    style: {background: "transparent", fontFamily: FONT, overflow: "visible"},
    marks: [
      Plot.cell(cells, {x: "d", y: "s", fill: "v", inset: 0}),
      Plot.cell(F_TARGETS, {x: d => d[1], y: d => d[0], fill: "none", stroke: "#111", strokeWidth: 2.2, inset: 0}),
      Plot.text(F_SENSORS, {y: d => d, text: d => d, frameAnchor: "left", dx: -72, textAnchor: "middle", fill: COL.sky, fontSize: 22}),
      Plot.text(DRUGS, {x: d => d, text: d => d, frameAnchor: "top", dy: -8, rotate: -90, textAnchor: "start", fill: COL.purple, fontSize: 22})
    ]
  });
  place(svg, L, Tp);

  const leg = Plot.plot({
    width: 325, height: 129, marginLeft: 0, marginRight: 0, marginTop: 70.5, marginBottom: 0.2,
    x: {type: "band", domain: P_LEVELS, padding: 0, axis: null},
    color: HEAT_COLOR,
    style: {background: "transparent", fontFamily: FONT, overflow: "visible"},
    marks: [
      Plot.cell(P_LEVELS, {x: d => d, fill: d => d, inset: 0}),
      Plot.text(P_TICKS, {x: d => d, text: (d, i) => P_TICK_LABELS[i], frameAnchor: "top", dy: -39, rotate: -90, textAnchor: "middle", fill: "#111", fontSize: 19})
    ]
  });
  place(leg, 730.7, 1895);
  txt("p-value", 660, 1996, {size: 33});
  txt("inhibition", 779, 2055, {size: 26, color: "#1e9e32"});
  txt("activation", 986, 2055, {size: 26, color: "#ff1a1a"});
}

// ---------------- PANEL G ----------------
{
  const pts = (edges) => edges.flatMap(([type, p], id) => p.map(([x, y]) => ({id, x, y, c: EDGE_COL[type]})));
  const svg = Plot.plot({
    width: 597, height: 590, margin: 0,
    x: {domain: [1070, 1667], axis: null}, y: {domain: [1480, 2070], reverse: true, axis: null},
    color: {type: "identity"},
    style: {background: "transparent", fontFamily: FONT, overflow: "visible"},
    marks: [
      Plot.line(pts(G_INH_EDGES), {x: "x", y: "y", z: "id", stroke: "c", strokeWidth: 3, curve: "catmull-rom", markerEnd: "arrow"}),
      Plot.line(pts(G_ACT_EDGES), {x: "x", y: "y", z: "id", stroke: "c", strokeWidth: 3, curve: "catmull-rom", markerEnd: "arrow"}),
      Plot.text(G_NODES, {x: d => d[1], y: d => d[2], text: d => d[0], fill: "#111", fontSize: 30})
    ]
  });
  patchMarkers(svg);
  place(svg, 1070, 1480);
  txt("Positive:  p<0.01", 1252, 2003, {size: 26, color: "#1e9b3c", ax: 0});
  txt("p<0.05", 1473, 2003, {size: 26, color: "#8cc63f", ax: 0});
  txt("Negative: p<0.01", 1252, 2035, {size: 26, color: "#ff0000", ax: 0});
  txt("p<0.05", 1479, 2035, {size: 26, color: "#f5868b", ax: 0});
}
</script>
</body></html>
